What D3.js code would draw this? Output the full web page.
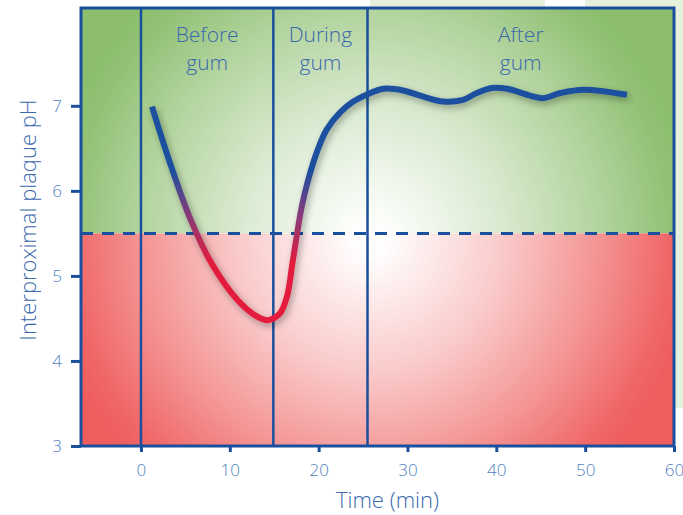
<!DOCTYPE html>
<html>
<head>
<meta charset="utf-8">
<script src="https://cdn.jsdelivr.net/npm/d3@7"></script>
<style>
  html, body { margin: 0; padding: 0; background: #fff; }
  svg { display: block; }
  text { font-family: "Open Sans", "DejaVu Sans", sans-serif; font-weight: 300; }
</style>
</head>
<body>
<svg id="chart" width="683" height="515"></svg>
<script>
// ---- data ----
const timeMin = [1.24, 3.26, 5.52, 7.99, 10.92, 12.94, 14.30, 15.65, 16.44, 17.11, 18.09, 18.83, 19.78, 20.90, 22.4, 23.9, 25.4, 27.3, 29.5, 31.7, 34.0, 36.25, 37.8, 39.5, 41.2, 43.8, 45.3, 47.2, 49.8, 54.7];
const plaquePH = [6.99, 6.33, 5.68, 5.14, 4.71, 4.53, 4.48, 4.56, 4.76, 5.19, 5.81, 6.13, 6.45, 6.72, 6.92, 7.05, 7.13, 7.20, 7.18, 7.11, 7.05, 7.07, 7.15, 7.21, 7.20, 7.12, 7.09, 7.15, 7.19, 7.13];
const phaseStarts = [0, 14.9, 25.5];
const phaseEnd = 60;
const phaseLine1 = ["Before", "During", "After"];
const phaseLine2 = ["gum", "gum", "gum"];
const criticalPH = 5.5;
const xTicks = [0, 10, 20, 30, 40, 50, 60];
const yTicks = [3, 4, 5, 6, 7];
const xTitle = "Time (min)";
const yTitle = "Interproximal plaque pH";

// ---- layout ----
const svg = d3.select("#chart");
const x = d3.scaleLinear().domain([-6.75, 60]).range([81, 674]);
const y = d3.scaleLinear().domain([3, 8.15]).range([446, 8]);
const dark = "#1a4f9e";
const labelBlue = "#4f7fc0";

const defs = svg.append("defs");

// decorative light green background shapes
const deco = "#e6f1dd";
svg.append("rect").attr("x", 370).attr("y", 0).attr("width", 175).attr("height", 10).attr("fill", deco);
svg.append("rect").attr("x", 585).attr("y", 0).attr("width", 98).attr("height", 10).attr("fill", deco);
svg.append("rect").attr("x", 674).attr("y", 0).attr("width", 9).attr("height", 408).attr("fill", deco);

function radial(id, color) {
  const g = defs.append("radialGradient").attr("id", id)
    .attr("gradientUnits", "userSpaceOnUse")
    .attr("cx", 370).attr("cy", 240).attr("r", 325);
  const interp = d3.interpolateRgb("#ffffff", color);
  [[0, 0], [0.06, 0.02], [0.4, 0.32], [0.7, 0.66], [0.92, 0.94], [1, 1]].forEach(([o, t]) => {
    g.append("stop").attr("offset", o).attr("stop-color", interp(t));
  });
}
radial("gGreen", "#8cbe6e");
radial("gRed", "#ef5d5d");

// background zones
svg.append("rect")
  .attr("x", x(-6.75)).attr("y", y(8.15))
  .attr("width", x(60) - x(-6.75)).attr("height", y(criticalPH) - y(8.15))
  .attr("fill", "url(#gGreen)");
svg.append("rect")
  .attr("x", x(-6.75)).attr("y", y(criticalPH))
  .attr("width", x(60) - x(-6.75)).attr("height", y(3) - y(criticalPH))
  .attr("fill", "url(#gRed)");

// phase lines
svg.selectAll(".phase").data(phaseStarts).enter().append("line")
  .attr("x1", d => x(d)).attr("x2", d => x(d))
  .attr("y1", y(8.15)).attr("y2", y(3))
  .attr("stroke", dark).attr("stroke-width", 2.5);

// critical pH dashed line
svg.append("line")
  .attr("x1", x(-6.75)).attr("x2", x(60))
  .attr("y1", y(criticalPH)).attr("y2", y(criticalPH))
  .attr("stroke", dark).attr("stroke-width", 3)
  .attr("stroke-dasharray", "12 9");

// phase labels
const bounds = phaseStarts.concat([phaseEnd]);
phaseLine1.forEach((t, i) => {
  const cx = x((bounds[i] + bounds[i + 1]) / 2);
  const txt = svg.append("text").attr("x", cx).attr("y", 42)
    .attr("text-anchor", "middle").attr("fill", "#3a68ad")
    .attr("font-size", 21);
  txt.append("tspan").attr("x", cx).attr("y", 42).text(t);
  txt.append("tspan").attr("x", cx).attr("y", 70).text(phaseLine2[i]);
});

// curve
const grad = defs.append("linearGradient").attr("id", "curveGrad")
  .attr("gradientUnits", "userSpaceOnUse")
  .attr("x1", 0).attr("x2", 0).attr("y1", y(6.25)).attr("y2", y(5.15));
grad.append("stop").attr("offset", 0).attr("stop-color", "#1a4f9e");
grad.append("stop").attr("offset", 0.5).attr("stop-color", "#8a3a78");
grad.append("stop").attr("offset", 1).attr("stop-color", "#e31c3d");

const filt = defs.append("filter").attr("id", "shadow")
  .attr("x", "-20%").attr("y", "-20%").attr("width", "140%").attr("height", "140%");
filt.append("feDropShadow").attr("dx", 2).attr("dy", 3).attr("stdDeviation", 3.5)
  .attr("flood-color", "#000").attr("flood-opacity", 0.35);

const pts = timeMin.map((t, i) => [t, plaquePH[i]]);
const line = d3.line().x(d => x(d[0])).y(d => y(d[1])).curve(d3.curveCatmullRom.alpha(0.5));
svg.append("path").datum(pts)
  .attr("d", line)
  .attr("fill", "none")
  .attr("stroke", "url(#curveGrad)")
  .attr("stroke-width", 6)
  .attr("stroke-linecap", "butt")
  .attr("stroke-linejoin", "round")
  .attr("filter", "url(#shadow)");

// frame
svg.append("rect")
  .attr("x", x(-6.75)).attr("y", y(8.15))
  .attr("width", x(60) - x(-6.75)).attr("height", y(3) - y(8.15))
  .attr("fill", "none").attr("stroke", dark).attr("stroke-width", 3);

// axes
const xAxis = svg.append("g").attr("transform", `translate(0,${y(3)})`)
  .call(d3.axisBottom(x).tickValues(xTicks).tickSize(6).tickPadding(12).tickFormat(d3.format("d")));
const yAxis = svg.append("g").attr("transform", `translate(${x(-6.75)},0)`)
  .call(d3.axisLeft(y).tickValues(yTicks).tickSize(10).tickPadding(9).tickFormat(d3.format("d")));
[xAxis, yAxis].forEach(a => {
  a.select(".domain").remove();
  a.selectAll(".tick line").attr("stroke", dark).attr("stroke-width", 3);
  a.selectAll(".tick text").attr("fill", labelBlue)
    .style("font-family", '"Open Sans", sans-serif').style("font-weight", 300)
    .attr("font-size", 17);
});

// titles
svg.append("text").attr("x", x(30) - 20).attr("y", 508)
  .attr("text-anchor", "middle").attr("fill", "#3a68ad").attr("font-size", 22)
  .text(xTitle);
svg.append("text").attr("transform", `translate(36,220) rotate(-90)`)
  .attr("text-anchor", "middle").attr("fill", "#3a68ad").attr("font-size", 22)
  .text(yTitle);
</script>
</body>
</html>
